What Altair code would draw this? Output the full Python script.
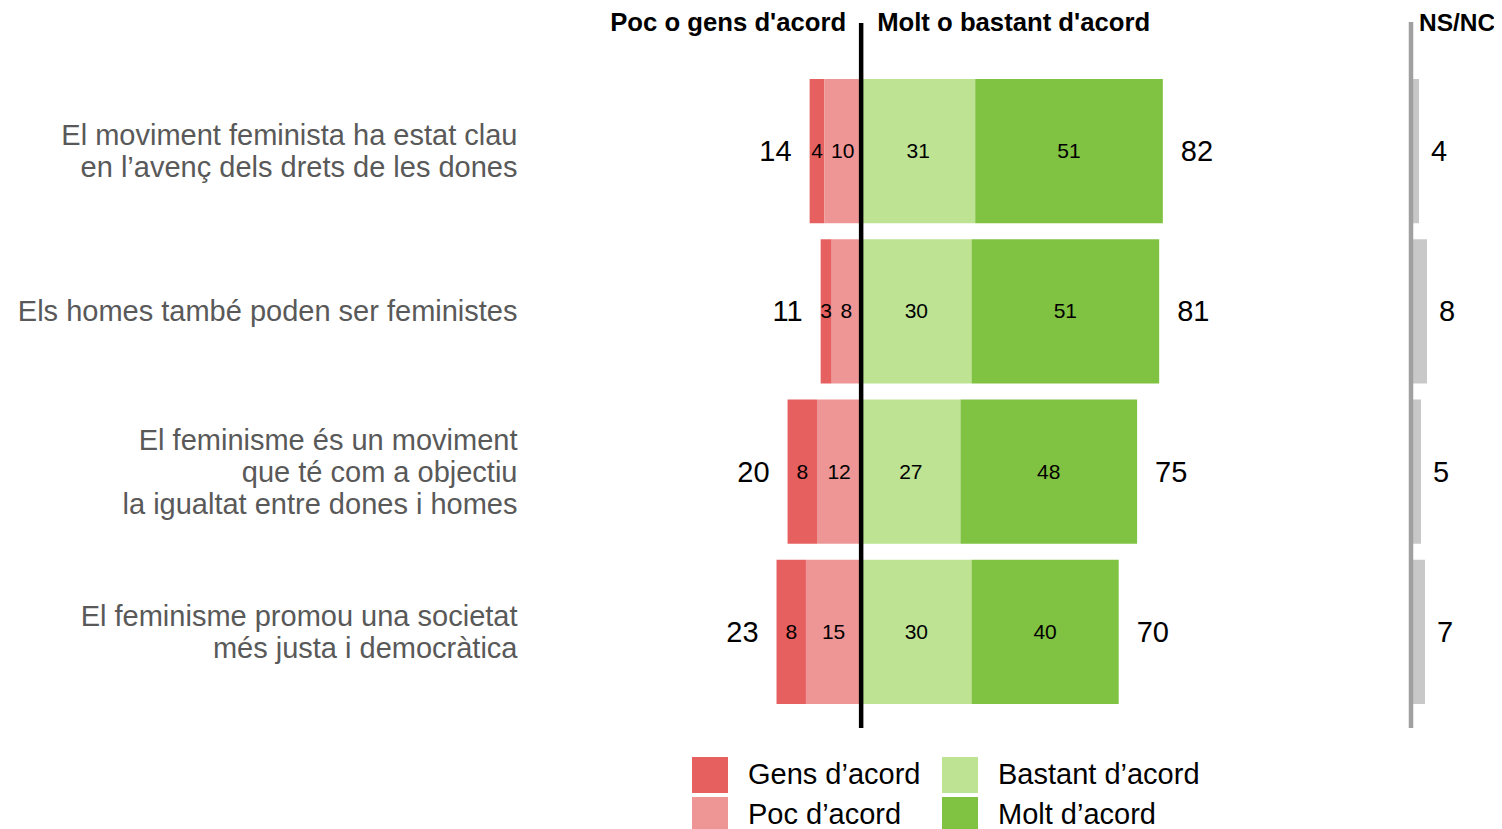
import altair as alt
import pandas as pd

# ---------------- data ----------------
statements = [
    "El moviment feminista ha estat clau|en l’avenç dels drets de les dones",
    "Els homes també poden ser feministes",
    "El feminisme és un moviment|que té com a objectiu|la igualtat entre dones i homes",
    "El feminisme promou una societat|més justa i democràtica",
]
gens = [4, 3, 8, 8]
poc = [10, 8, 12, 15]
bastant = [31, 30, 27, 30]
molt = [51, 51, 48, 40]
nsnc = [4, 8, 5, 7]
total_neg = [14, 11, 20, 23]
total_pos = [82, 81, 75, 70]

categories = ["Gens d’acord", "Poc d’acord", "Bastant d’acord", "Molt d’acord"]
cat_colors = ["#E66060", "#EE9696", "#BDE393", "#80C241"]
headers_left = ["Poc o gens d'acord"]
headers_right = ["Molt o bastant d'acord"]
headers_ns = ["NS/NC"]

FONT = "Liberation Sans"

# ---------------- tables ----------------
seg_rows = []
for i, s in enumerate(statements):
    g, p, b, m = gens[i], poc[i], bastant[i], molt[i]
    seg_rows += [
        dict(statement=s, cat=categories[0], start=-(g + p), end=-p, value=g),
        dict(statement=s, cat=categories[1], start=-p, end=0, value=p),
        dict(statement=s, cat=categories[2], start=0, end=b, value=b),
        dict(statement=s, cat=categories[3], start=b, end=b + m, value=m),
    ]
seg = pd.DataFrame(seg_rows)
seg["mid"] = (seg["start"] + seg["end"]) / 2

tot = pd.DataFrame(dict(statement=statements, neg=total_neg, pos=total_pos, ns=nsnc))
tot["neg_x"] = [-(g + p) for g, p in zip(gens, poc)]
tot["pos_x"] = [b + m for b, m in zip(bastant, molt)]

one = pd.DataFrame({"statement": [statements[0]]})

# ---------------- scales ----------------
xs_main = alt.Scale(domain=[-90, 172], nice=False, zero=False)
xs_ns = alt.Scale(domain=[-440.5, 41.5], nice=False, zero=False)
ys = alt.Scale(domain=statements, paddingInner=0.1, paddingOuter=0.05)

# shift multi-line labels up so the block is centred on the bar
label_offset = {
    "condition": [
        {"test": "length(split(datum.value, '|')) == 3", "value": -31},
        {"test": "length(split(datum.value, '|')) == 2", "value": -15},
    ],
    "value": 1,
}

y_axis = alt.Axis(
    title=None, domain=False, ticks=False, tickSize=0, labelPadding=13,
    labelFontSize=29, labelFont=FONT, labelColor="#595959",
    labelLineHeight=32, labelLimit=700, labelAlign="right",
    labelBaseline="middle", labelOffset=label_offset,
    labelExpr="split(datum.label, '|')",
)


def Y():
    return alt.Y("statement:N", sort=statements, scale=ys, axis=y_axis)


bars = alt.Chart(seg).mark_bar().encode(
    x=alt.X("start:Q", scale=xs_main, axis=None),
    x2="end:Q",
    y=Y(),
    color=alt.Color(
        "cat:N",
        scale=alt.Scale(domain=categories, range=cat_colors),
        legend=alt.Legend(
            title=None, orient="none", legendX=162, legendY=686, columns=2,
            symbolType="square", symbolSize=1296, symbolStrokeWidth=0,
            symbolOpacity=1, labelFontSize=29, labelFont=FONT,
            labelColor="black", labelLimit=400, labelOffset=20,
            rowPadding=4, columnPadding=21,
        ),
    ),
)

seg_text = alt.Chart(seg).mark_text(
    fontSize=21, font=FONT, color="black", align="center", baseline="middle", dy=1
).encode(
    x=alt.X("mid:Q", scale=xs_main, axis=None),
    y=Y(),
    text="value:Q",
)

neg_text = alt.Chart(tot).mark_text(
    fontSize=29, font=FONT, color="black", align="right", baseline="middle", dx=-18, dy=1
).encode(
    x=alt.X("neg_x:Q", scale=xs_main, axis=None),
    y=Y(),
    text="neg:Q",
)

pos_text = alt.Chart(tot).mark_text(
    fontSize=29, font=FONT, color="black", align="left", baseline="middle", dx=18, dy=1
).encode(
    x=alt.X("pos_x:Q", scale=xs_main, axis=None),
    y=Y(),
    text="pos:Q",
)

ns_bars = alt.Chart(tot).mark_bar(color="#C8C8C8").encode(
    x=alt.X("ns:Q", scale=xs_ns, axis=None),
    x2=alt.X2(datum=0),
    y=Y(),
)

ns_text = alt.Chart(tot).mark_text(
    fontSize=29, font=FONT, color="black", align="left", baseline="middle", dx=12, dy=1
).encode(
    x=alt.X("ns:Q", scale=xs_ns, axis=None),
    y=Y(),
    text="ns:Q",
)

center_rule = alt.Chart(one).mark_rule(color="black", strokeWidth=4.5).encode(
    x=alt.XDatum(0, type="quantitative", scale=xs_main, axis=None),
    y=alt.value(-48),
    y2=alt.value(657),
)

ns_rule = alt.Chart(one).mark_rule(color="#A0A0A0", strokeWidth=4.5).encode(
    x=alt.XDatum(0, type="quantitative", scale=xs_ns, axis=None),
    y=alt.value(-49),
    y2=alt.value(657),
)

hdr_l = alt.Chart(pd.DataFrame({"t": headers_left})).mark_text(
    fontSize=25.7, font=FONT, fontWeight="bold", color="black",
    align="right", baseline="alphabetic", dx=-15
).encode(
    x=alt.XDatum(0, type="quantitative", scale=xs_main, axis=None),
    y=alt.value(-40),
    text="t:N",
)

hdr_r = alt.Chart(pd.DataFrame({"t": headers_right})).mark_text(
    fontSize=25.7, font=FONT, fontWeight="bold", color="black",
    align="left", baseline="alphabetic", dx=16
).encode(
    x=alt.XDatum(0, type="quantitative", scale=xs_main, axis=None),
    y=alt.value(-40),
    text="t:N",
)

hdr_ns = alt.Chart(pd.DataFrame({"t": headers_ns})).mark_text(
    fontSize=24.5, font=FONT, fontWeight="bold", color="black",
    align="left", baseline="alphabetic", dx=8
).encode(
    x=alt.XDatum(0, type="quantitative", scale=xs_ns, axis=None),
    y=alt.value(-40),
    text="t:N",
)

chart = alt.layer(
    bars, seg_text, neg_text, pos_text, ns_bars, ns_text,
    center_rule, ns_rule, hdr_l, hdr_r, hdr_ns,
).resolve_scale(x="independent").properties(
    width=964,
    height=641,
    autosize=alt.AutoSizeParams(type="none"),
    padding={"left": 522, "top": 63, "right": 0, "bottom": 117},
).configure(font=FONT).configure_view(strokeWidth=0, stroke="transparent")

chart.save("out.html", embed_options={"renderer": "svg", "actions": False})
